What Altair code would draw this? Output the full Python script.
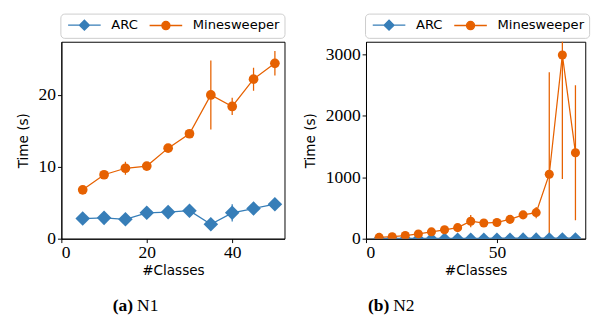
import altair as alt
import pandas as pd

series = ["ARC", "Minesweeper"]
colors = ["#377eb8", "#e66101"]

# N1 panel
n1_x = [5, 10, 15, 20, 25, 30, 35, 40, 45, 50]
n1_arc = [2.8, 2.9, 2.7, 3.6, 3.7, 3.9, 2.0, 3.6, 4.2, 4.8]
n1_arc_err = [0.2, 0.2, 0.3, 0.2, 0.2, 0.2, 0.2, 1.2, 0.9, 0.3]
n1_ms = [6.8, 8.9, 9.8, 10.1, 12.6, 14.6, 20.0, 18.4, 22.2, 24.4]
n1_ms_err = [0.2, 0.3, 0.9, 0.3, 0.3, 0.3, 4.8, 1.2, 1.6, 1.7]

# N2 panel
n2_x = [5, 10, 15, 20, 25, 30, 35, 40, 45, 50, 55, 60, 65, 70, 75, 80]
n2_arc = [3, 4, 4, 5, 5, 6, 6, 7, 7, 8, 8, 9, 9, 10, 10, 11]
n2_arc_err = [1, 1, 1, 1, 1, 1, 1, 1, 1, 1, 1, 1, 1, 2, 2, 2]
n2_ms = [22, 32, 52, 78, 112, 145, 180, 285, 255, 265, 315, 388, 425, 1050, 2990, 1400]
n2_ms_err = [10, 12, 15, 20, 20, 25, 30, 100, 30, 30, 40, 45, 90, 1660, 2020, 1100]

captions_a = ["(a)", "N1"]
captions_b = ["(b)", "N2"]

DIAMOND_LEG = "M-3.36,0L3.36,0M-1,0L0,-1L1,0L0,1Z"
CIRCLE_LEG = "M-3.36,0L3.36,0M0.82,0A0.82,0.82,0,1,1,-0.82,0A0.82,0.82,0,1,1,0.82,0Z"


def frame(xs, arc, arc_err, ms, ms_err):
    rows = []
    for name, vals, errs in [(series[0], arc, arc_err), (series[1], ms, ms_err)]:
        for x, v, e in zip(xs, vals, errs):
            rows.append({"series": name, "x": x, "y": v, "lo": v - e, "hi": v + e})
    return pd.DataFrame(rows)


def panel(df, xdom, xticks, ydom, yticks, w, h, dsize, csize, cap, cap_x):
    cscale = alt.Scale(domain=series, range=colors)
    X = alt.X("x:Q", scale=alt.Scale(domain=xdom, nice=False, zero=False),
              axis=alt.Axis(values=xticks, title="#Classes", format="d"))
    Y = alt.Y("y:Q", scale=alt.Scale(domain=ydom, nice=False, zero=False),
              axis=alt.Axis(values=yticks, title="Time (s)", format="d"))
    base = alt.Chart(df)
    err = base.mark_rule(strokeWidth=1.3, clip=True).encode(
        x=X, y=alt.Y("lo:Q"), y2="hi:Q",
        color=alt.Color("series:N", scale=cscale, legend=None))
    line = base.mark_line(strokeWidth=1.3, clip=True).encode(
        x=X, y=Y, color=alt.Color("series:N", scale=cscale, legend=None),
        detail="series:N")
    pts_d = base.transform_filter(alt.datum.series == "ARC").mark_point(
        shape="diamond", filled=True, opacity=1, size=dsize, clip=True).encode(
        x=X, y=Y, color=alt.Color("series:N", scale=cscale, legend=None))
    pts_c = base.transform_filter(alt.datum.series == "Minesweeper").mark_point(
        shape="circle", filled=True, opacity=1, size=csize, clip=True).encode(
        x=X, y=Y, color=alt.Color("series:N", scale=cscale, legend=None))
    leg = alt.Legend(
        orient="none", legendX=-1, legendY=-29, direction="horizontal", title=None,
        strokeColor="#cccccc", fillColor="white", cornerRadius=4, padding=5,
        symbolOpacity=1, symbolStrokeWidth=1.5, symbolOffset=13,
        labelFont="DejaVu Sans", labelFontSize=13.5, labelColor="black",
        labelOffset=21, columnPadding=8)
    legend_layer = base.mark_point(opacity=0, size=121, strokeWidth=1.5).encode(
        x=X, y=Y,
        fill=alt.Fill("series:N", scale=cscale, legend=leg),
        stroke=alt.Stroke("series:N", scale=cscale, legend=leg),
        shape=alt.Shape("series:N", scale=alt.Scale(domain=series, range=[DIAMOND_LEG, CIRCLE_LEG]), legend=leg))
    capdf = pd.DataFrame({"t": cap})
    cap1 = alt.Chart(capdf).transform_filter(alt.datum.t == cap[0]).mark_text(
        font="Liberation Serif", fontSize=18, fontWeight="bold", align="right",
        baseline="alphabetic", color="black").encode(
        text="t:N", x=alt.value(cap_x), y=alt.value(h + 74))
    cap2 = alt.Chart(capdf).transform_filter(alt.datum.t == cap[1]).mark_text(
        font="Liberation Serif", fontSize=18, align="left",
        baseline="alphabetic", color="black").encode(
        text="t:N", x=alt.value(cap_x + 4), y=alt.value(h + 74))
    return alt.layer(legend_layer, err, line, pts_d, pts_c, cap1, cap2).properties(width=w, height=h)


df1 = frame(n1_x, n1_arc, n1_arc_err, n1_ms, n1_ms_err)
df2 = frame(n2_x, n2_arc, n2_arc_err, n2_ms, n2_ms_err)

left = panel(df1, [0, 52.25], [0, 20, 40], [0, 27.4], [0, 10, 20], 230, 203, 225, 100, captions_a, 74)
right = panel(df2, [0, 83.75], [0, 50], [0, 3206], [0, 1000, 2000, 3000], 226, 203, 144, 87, captions_b, 24)

chart = alt.hconcat(left, right, spacing=9).resolve_scale(
    fill="independent", stroke="independent", shape="independent", color="independent"
).resolve_legend(fill="independent", stroke="independent", shape="independent").properties(
    padding={"left": 8, "top": 0, "right": 0, "bottom": 0}
).configure_view(stroke="black", strokeWidth=1).configure_axis(
    labelFont="Liberation Serif", labelFontSize=18, labelColor="black",
    titleFont="DejaVu Sans", titleFontSize=14, titleFontWeight="normal", titleColor="black",
    tickColor="black", tickSize=4, domainColor="black", grid=False, labelPadding=2
).configure_axisY(titlePadding=8).configure_axisX(titlePadding=3, labelPadding=1)

chart.save("out.html", embed_options={"renderer": "svg", "actions": False})
